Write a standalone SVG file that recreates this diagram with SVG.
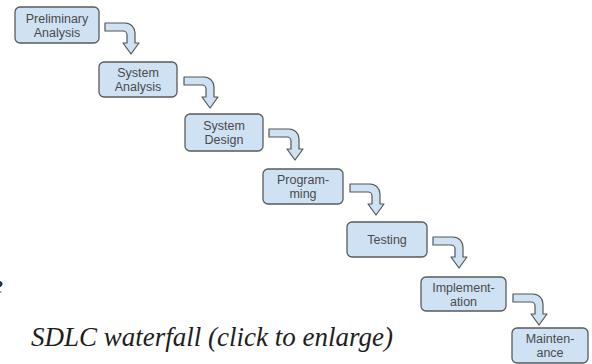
<svg xmlns="http://www.w3.org/2000/svg" xmlns:xlink="http://www.w3.org/1999/xlink" width="592" height="364" viewBox="0 0 592 364">
<style>
.box{fill:#cfe2f3;stroke:#5a5a5a;stroke-width:1.3}
.lbl{font-family:"Liberation Sans",Arial,sans-serif;font-size:12.5px;fill:#4a4a4a;text-anchor:middle}
.arr{fill:#cfe2f3;stroke:#555;stroke-width:1.2;stroke-linejoin:round}
.cap{font-family:"Liberation Serif","Times New Roman",serif;font-style:italic;font-size:27px;fill:#1e1e1e}
</style>
<defs>
<path id="bend" class="arr" d="M0,0 H20 A10,10 0 0 1 30,10 V20 H34 L26,31 L18,20 H22 V12 A4,4 0 0 0 18,8 H0 Z"/>
</defs>
<rect width="592" height="364" fill="#ffffff"/>
<g id="connectors">
<use xlink:href="#bend" x="105" y="23"/>
<use xlink:href="#bend" x="184" y="77"/>
<use xlink:href="#bend" x="269" y="129"/>
<use xlink:href="#bend" x="350" y="184"/>
<use xlink:href="#bend" x="433" y="237"/>
<use xlink:href="#bend" x="513" y="294"/>
</g>
<g id="n1"><rect class="box" x="15" y="7" width="84" height="36" rx="5"/><text class="lbl" x="57" y="22.5">Preliminary</text><text class="lbl" x="57" y="36.5">Analysis</text></g>
<g id="n2"><rect class="box" x="99" y="62" width="78" height="35" rx="5"/><text class="lbl" x="138" y="77">System</text><text class="lbl" x="138" y="91">Analysis</text></g>
<g id="n3"><rect class="box" x="185" y="114" width="78" height="37" rx="5"/><text class="lbl" x="224" y="130">System</text><text class="lbl" x="224" y="144">Design</text></g>
<g id="n4"><rect class="box" x="263" y="169" width="80" height="35" rx="5"/><text class="lbl" x="303" y="184">Program-</text><text class="lbl" x="303" y="198">ming</text></g>
<g id="n5"><rect class="box" x="347" y="222" width="80" height="35" rx="5"/><text class="lbl" x="387" y="244">Testing</text></g>
<g id="n6"><rect class="box" x="421" y="277" width="85" height="34" rx="5"/><text class="lbl" x="463.5" y="291.5">Implement-</text><text class="lbl" x="463.5" y="305.5">ation</text></g>
<g id="n7"><rect class="box" x="512" y="328" width="76" height="35" rx="5"/><text class="lbl" x="550" y="343">Mainten-</text><text class="lbl" x="550" y="357">ance</text></g>
<text class="cap" x="-9" y="294">e</text>
<text class="cap" x="31" y="346">SDLC waterfall (click to enlarge)</text>
</svg>
